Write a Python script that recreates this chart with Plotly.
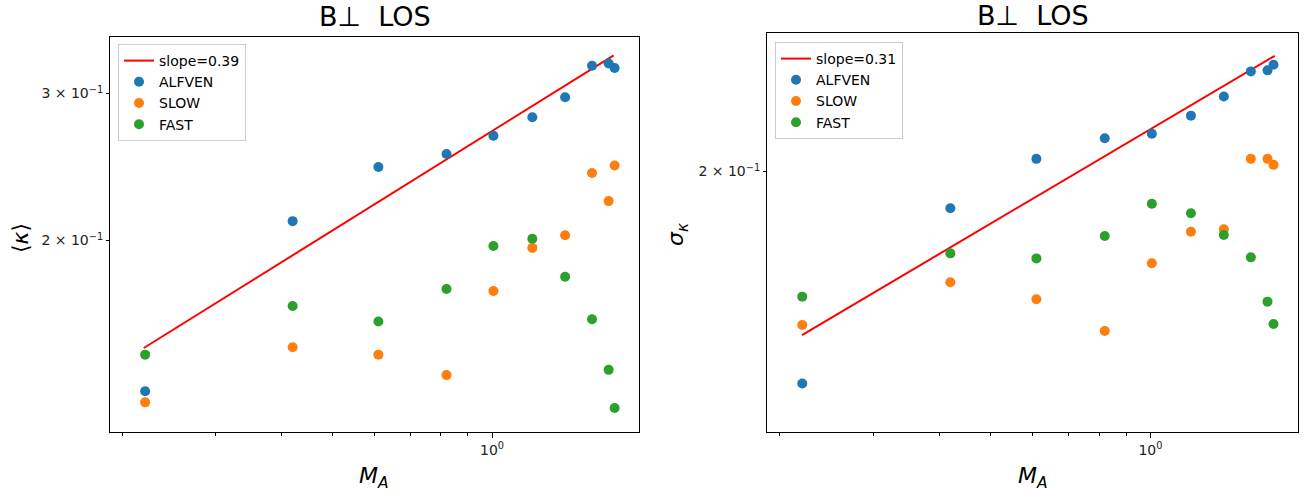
import plotly.graph_objects as go

# ---- data ----
MA = [0.2206, 0.4195, 0.6095, 0.820, 1.006, 1.192, 1.375, 1.546, 1.662, 1.706]

kappa_alfven = [0.132, 0.211, 0.245, 0.254, 0.267, 0.281, 0.297, 0.324, 0.326, 0.322]
kappa_slow = [0.128, 0.149, 0.146, 0.138, 0.174, 0.196, 0.203, 0.241, 0.223, 0.246]
kappa_fast = [0.146, 0.167, 0.160, 0.175, 0.197, 0.201, 0.181, 0.161, 0.140, 0.126]
kappa_fit_x = [0.2193, 1.699]
kappa_fit_y = [0.1487, 0.3334]
kappa_slope = "slope=0.39"

sigma_alfven = [0.1234, 0.1840, 0.2059, 0.2158, 0.2180, 0.2272, 0.2373, 0.2513, 0.2519, 0.2551]
sigma_slow = [0.1410, 0.1554, 0.1495, 0.1391, 0.1623, 0.1744, 0.1754, 0.2059, 0.2059, 0.2031]
sigma_fast = [0.1504, 0.1660, 0.1641, 0.1727, 0.1859, 0.1819, 0.1731, 0.1645, 0.1487, 0.1413]
sigma_fit_x = [0.2203, 1.715]
sigma_fit_y = [0.1378, 0.2604]
sigma_slope = "slope=0.31"

x_minor = [0.2, 0.3, 0.4, 0.5, 0.6, 0.7, 0.8, 0.9]
x_major = [1.0]
x_major_text = ["10<sup>0</sup>"]
y_ticks = [0.2, 0.3]
y_tick_text = ["2 × 10<sup>−1</sup>", "3 × 10<sup>−1</sup>"]

series_names = ["ALFVEN", "SLOW", "FAST"]
colors = ["#1f77b4", "#ff7f0e", "#2ca02c"]

W, H = 1310, 493
FONT = "DejaVu Sans"

fig = go.Figure()

def add_panel(fit_x, fit_y, slope_label, ys, xa, ya, legend):
    fig.add_trace(go.Scatter(x=fit_x, y=fit_y, mode="lines", name=slope_label,
                             line=dict(color="#ff0000", width=2),
                             xaxis=xa, yaxis=ya, legend=legend))
    for name, col, yv in zip(series_names, colors, ys):
        fig.add_trace(go.Scatter(x=MA, y=yv, mode="markers", name=name,
                                 marker=dict(color=col, size=10, line=dict(width=0)),
                                 xaxis=xa, yaxis=ya, legend=legend))

add_panel(kappa_fit_x, kappa_fit_y, kappa_slope,
          [kappa_alfven, kappa_slow, kappa_fast], "x", "y", "legend")
add_panel(sigma_fit_x, sigma_fit_y, sigma_slope,
          [sigma_alfven, sigma_slow, sigma_fast], "x2", "y2", "legend2")

def px_x(p):
    return p / W

def px_y(p):
    return 1 - p / H

xaxis_common = dict(type="log", range=[-0.7229, 0.2781],
                    tickvals=x_major, ticktext=x_major_text,
                    ticks="outside", ticklen=5, tickwidth=1, tickcolor="black",
                    showgrid=False, zeroline=False,
                    showline=True, linecolor="black", linewidth=1, mirror=True,
                    tickfont=dict(family=FONT, size=14, color="#222"),
                    minor=dict(tickvals=x_minor, ticks="outside", ticklen=3,
                               tickwidth=1, tickcolor="black", showgrid=False))
yaxis_common = dict(type="log", tickvals=y_ticks, ticktext=y_tick_text,
                    ticks="outside", ticklen=3, tickwidth=1, tickcolor="black",
                    showgrid=False, zeroline=False,
                    showline=True, linecolor="black", linewidth=1, mirror=True,
                    tickfont=dict(family=FONT, size=14, color="#222"))

legend_common = dict(xanchor="left", yanchor="top",
                     bgcolor="rgba(255,255,255,0.8)", bordercolor="#cccccc",
                     borderwidth=1, font=dict(family=FONT, size=14),
                     itemwidth=30, tracegroupgap=0)

fig.update_layout(
    width=W, height=H,
    margin=dict(l=0, r=0, t=0, b=0),
    paper_bgcolor="white", plot_bgcolor="white",
    font=dict(family=FONT, color="black"),
    xaxis=dict(xaxis_common, domain=[px_x(110), px_x(639)], anchor="y"),
    yaxis=dict(yaxis_common, domain=[px_y(432), px_y(37)], anchor="x",
               range=[-0.9283, -0.4551]),
    xaxis2=dict(xaxis_common, domain=[px_x(767), px_x(1298)], anchor="y2"),
    yaxis2=dict(yaxis_common, domain=[px_y(432), px_y(33)], anchor="x2",
                range=[-0.9567, -0.5618]),
    legend=dict(legend_common, x=px_x(118), y=px_y(44)),
    legend2=dict(legend_common, x=px_x(775), y=px_y(42)),
    showlegend=True,
)

annotations = [
    dict(text="B⊥  LOS", x=px_x(375), y=px_y(17), font=dict(size=27)),
    dict(text="B⊥  LOS", x=px_x(1033), y=px_y(15), font=dict(size=27)),
    dict(text="<i>M<sub>A</sub></i>", x=px_x(374), y=px_y(477), font=dict(size=22)),
    dict(text="<i>M<sub>A</sub></i>", x=px_x(1033), y=px_y(477), font=dict(size=22)),
    dict(text="⟨<i>κ</i>⟩", x=px_x(20), y=px_y(238), font=dict(size=22), textangle=-90),
    dict(text="<i>σ<sub>κ</sub></i>", x=px_x(677), y=px_y(235), font=dict(size=22), textangle=-90),
]
for a in annotations:
    a.update(xref="paper", yref="paper", showarrow=False,
             xanchor="center", yanchor="middle")
    a["font"].update(family=FONT, color="black")
fig.update_layout(annotations=annotations)

fig.write_html("out.html")
